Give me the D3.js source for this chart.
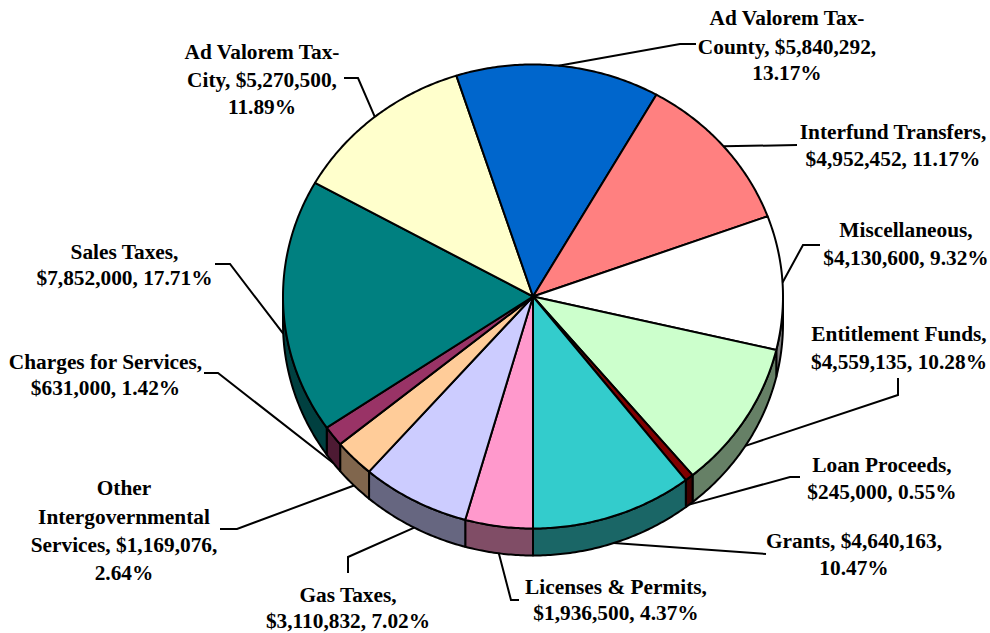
<!DOCTYPE html>
<html>
<head>
<meta charset="utf-8">
<script src="https://cdn.jsdelivr.net/npm/d3@7"></script>
<style>
  html, body { margin: 0; padding: 0; background: #fff; }
  svg { display: block; }
  text { font-family: "Liberation Serif", "Times New Roman", serif; font-weight: bold; font-size: 21.33px; fill: #000; }
</style>
</head>
<body>
<svg id="chart" width="990" height="633"></svg>
<script>
// ---- data (clockwise, first slice starts at 6 o'clock) ----
const categories = [
  "Licenses & Permits", "Gas Taxes", "Other Intergovernmental Services",
  "Charges for Services", "Sales Taxes", "Ad Valorem Tax-City",
  "Ad Valorem Tax-County", "Interfund Transfers", "Miscellaneous",
  "Entitlement Funds", "Loan Proceeds", "Grants"
];
const values = [
  1936500, 3110832, 1169076,
  631000, 7852000, 5270500,
  5840292, 4952452, 4130600,
  4559135, 245000, 4640163
];
const colors = [
  "#FF99CC", "#CCCCFF", "#FFCC99",
  "#993366", "#008080", "#FFFFCC",
  "#0066CC", "#FF8080", "#FFFFFF",
  "#CCFFCC", "#800000", "#33CCCC"
];
// label line templates: {v} = value, {p} = percent
const labelLines = [
  ["Licenses & Permits,", "{v}, {p}"],
  ["Gas Taxes,", "{v}, {p}"],
  ["Other", "Intergovernmental", "Services, {v},", "{p}"],
  ["Charges for Services,", "{v}, {p}"],
  ["Sales Taxes,", "{v}, {p}"],
  ["Ad Valorem Tax-", "City, {v},", "{p}"],
  ["Ad Valorem Tax-", "County, {v},", "{p}"],
  ["Interfund Transfers,", "{v}, {p}"],
  ["Miscellaneous,", "{v}, {p}"],
  ["Entitlement Funds,", "{v}, {p}"],
  ["Loan Proceeds,", "{v}, {p}"],
  ["Grants, {v},", "{p}"]
];

// ---- layout (positions of label blocks and leader elbows) ----
const labelLayout = [
  { x: 616,   y: [587, 613],            leader: [[519, 600], [511, 600]] },
  { x: 348,   y: [595, 621],            leader: [[348, 573], [348, 557]] },
  { x: 124,   y: [488, 517, 545, 573],  leader: [[220, 529], [237, 529]] },
  { x: 105.5, y: [362, 388],            leader: [[204, 373], [218, 373]] },
  { x: 124.5, y: [252, 278],            leader: [[215, 264], [230, 264]] },
  { x: 262,   y: [52, 80, 107],         leader: [[344, 78], [358, 78]] },
  { x: 787,   y: [18, 47, 73],          leader: [[696, 44], [680, 44]] },
  { x: 893,   y: [132, 159],            leader: [[797, 145]] },
  { x: 906,   y: [230, 258],            leader: [[820, 245], [803, 245]] },
  { x: 899,   y: [334, 362],            leader: [[898, 378], [898, 395]] },
  { x: 882,   y: [465, 492],            leader: [[800, 477], [790, 477]] },
  { x: 854,   y: [541, 568],            leader: [[766, 554]] }
];

const W = 990, H = 633;
const cx = 533, cy = 296.5, rx = 250, ry = 232, depth = 27;

const svg = d3.select("#chart");
svg.append("rect").attr("width", W).attr("height", H).attr("fill", "#fff");

const total = d3.sum(values);
const fmtV = v => "$" + d3.format(",")(v);
const fmtP = d3.format(".2%");

const pie = d3.pie().sort(null).value(d => d).startAngle(Math.PI).endAngle(3 * Math.PI);
const arcs = pie(values);

// projection scales: unit circle -> tilted ellipse
const xs = d3.scaleLinear().domain([-1, 1]).range([cx - rx, cx + rx]);
const ys = d3.scaleLinear().domain([-1, 1]).range([cy + ry, cy - ry]);
const pt = (a, dz) => [xs(Math.sin(a)), ys(Math.cos(a)) + (dz || 0)];

function arcPts(a0, a1, dz) {
  const n = Math.max(2, Math.ceil(Math.abs(a1 - a0) / 0.01));
  const out = [];
  for (let i = 0; i <= n; i++) out.push(pt(a0 + (a1 - a0) * i / n, dz));
  return out;
}
const line = d3.line();
const darken = c => { const r = d3.rgb(c); return d3.rgb(r.r * 0.5, r.g * 0.5, r.b * 0.5).formatHex(); };

// side walls (front half only)
const frontIntervals = [[Math.PI / 2, 1.5 * Math.PI], [2.5 * Math.PI, 3.5 * Math.PI]];
const sides = [];
arcs.forEach((d, i) => {
  frontIntervals.forEach(iv => {
    const lo = Math.max(d.startAngle, iv[0]), hi = Math.min(d.endAngle, iv[1]);
    if (hi > lo) sides.push({ i, lo, hi });
  });
});
svg.append("g").selectAll("path").data(sides).join("path")
  .attr("d", s => line(arcPts(s.lo, s.hi, 0).concat(arcPts(s.hi, s.lo, depth))) + "Z")
  .attr("fill", s => darken(colors[s.i]))
  .attr("stroke", "#000").attr("stroke-width", 2).attr("stroke-linejoin", "round");

// top faces
svg.append("g").selectAll("path").data(arcs).join("path")
  .attr("d", d => line([[cx, cy]].concat(arcPts(d.startAngle, d.endAngle, 0))) + "Z")
  .attr("fill", (d, i) => colors[i])
  .attr("stroke", "#000").attr("stroke-width", 2).attr("stroke-linejoin", "round");

// leader lines
svg.append("g").selectAll("path").data(arcs).join("path")
  .attr("d", (d, i) => {
    const m = (d.startAngle + d.endAngle) / 2;
    const anchor = pt(m, Math.cos(m) < 0 ? depth : 0);
    return line(labelLayout[i].leader.concat([anchor]));
  })
  .attr("fill", "none").attr("stroke", "#000").attr("stroke-width", 2);

// labels
const lg = svg.append("g");
arcs.forEach((d, i) => {
  const L = labelLayout[i];
  const t = lg.append("text").attr("text-anchor", "middle");
  labelLines[i].forEach((tpl, k) => {
    const s = tpl.replace("{v}", fmtV(values[i])).replace("{p}", fmtP(values[i] / total));
    t.append("tspan").attr("x", L.x).attr("y", L.y[k] + 7).text(s);
  });
});
</script>
</body>
</html>
